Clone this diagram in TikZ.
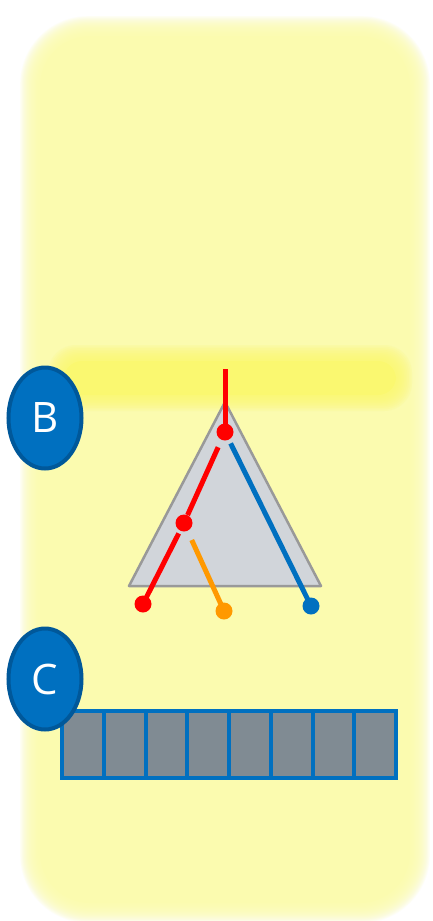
\documentclass[tikz,border=0pt]{standalone}
\usetikzlibrary{shapes.geometric}
\usepackage{fontspec}
\setmainfont{Open Sans}
\definecolor{bgyellow}{HTML}{FBFBAF}
\definecolor{bandyellow}{HTML}{FAF870}
\definecolor{tri}{HTML}{D1D5DA}
\definecolor{trib}{HTML}{999999}
\definecolor{myblue}{HTML}{0070C0}
\definecolor{darkblue}{HTML}{00589A}
\definecolor{cellgray}{HTML}{808B93}
\definecolor{myorange}{HTML}{FF9900}
\tikzset{
  dot/.style={circle, inner sep=0pt, minimum size=17pt},
  edge/.style={line width=5pt},
  badge/.style={ellipse, fill=myblue, draw=darkblue, line width=4pt, minimum width=73pt, minimum height=101pt, inner sep=0pt, text=white, font=\fontsize{42}{42}\selectfont},
  cell/.style={draw=myblue, fill=cellgray, line width=4pt, minimum width=41.75pt, minimum height=67pt, inner sep=0pt, anchor=north west}
}
\begin{document}
\begin{tikzpicture}[x=1pt,y=-1pt]
\useasboundingbox (0,0) rectangle (433,921);
\fill[white] (0,0) rectangle (433,921);
% blurred yellow panel
\foreach \i in {18,17,...,1}{
  \fill[bgyellow, fill opacity=0.13, rounded corners=50pt+\i*1pt] (40-\i*1.1,36-\i*1.1) rectangle (410+\i*1.1,903+\i*1.1);
}
\fill[bgyellow, rounded corners=50pt] (40,36) rectangle (410,903);
% blurred band
\foreach \i in {10,9,...,1}{
  \fill[bandyellow, fill opacity=0.15, rounded corners=18pt+\i*1pt] (64-\i*1.6,361-\i*1.6) rectangle (396+\i*1.6,395+\i*1.6);
}
\fill[bandyellow, rounded corners=18pt] (64,361) rectangle (396,395);
% triangle
\draw[trib, fill=tri, line width=2.5pt, line join=round] (225,402) -- (321,586) -- (129,586) -- cycle;
% tree nodes
\coordinate (top) at (225,369);
\node[dot, fill=red] (n1) at (225,432) {};
\node[dot, fill=red] (n2) at (184,523) {};
\node[dot, fill=red] (l1) at (143,604) {};
\node[dot, fill=myorange] (l2) at (224,611) {};
\node[dot, fill=myblue] (l3) at (311,606) {};
\draw[edge, red] (top) -- (n1.center);
\draw[edge, red, shorten <=8pt] (n1) -- (n2);
\draw[edge, myblue, shorten <=4pt, shorten >=-3pt] (n1) -- (l3);
\draw[edge, red, shorten <=3pt, shorten >=-3pt] (n2) -- (l1);
\draw[edge, myorange, shorten <=10pt, shorten >=-3pt] (n2) -- (l2);
% array
\foreach \k in {0,...,7}{
  \node[cell] (c\k) at (60+\k*41.75,709) {};
}
% labels
\node[badge] (B) at (45,418) {B};
\node[badge] (C) at (45,679) {C};
\end{tikzpicture}
\end{document}
